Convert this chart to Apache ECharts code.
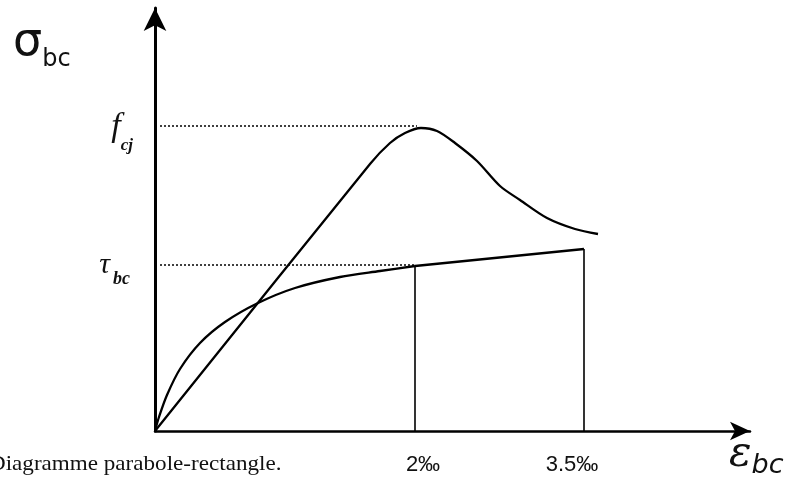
<!DOCTYPE html>
<html><head><meta charset="utf-8">
<script src="https://cdn.jsdelivr.net/npm/echarts@6/dist/echarts.min.js"></script>
<style>html,body{margin:0;padding:0;background:#fff}#c{width:799px;height:478px}</style>
</head><body><div id="c"></div>
<script>
// units: offsets (origin at the axes corner)
const xTickPos = [260, 429];
const xTickLabels = ['2‰', '3.5‰'];
const yTickPos = [166, 305];
const yTickLabels = ['{t|τ}{ts|bc}', '{f|f}{fs|cj}'];
// parabola-rectangle curve (lower)
const paraX = [0, 4, 12, 25, 45, 70, 103, 140, 185, 225, 260];
const paraY = [0, 14, 36, 62, 88, 109, 128, 143, 154, 160, 165];
const rectX = [260, 429];
const rectY = [165, 182];
// real behaviour curve (upper)
const realX = [0, 215, 235, 250, 266, 282, 300, 322, 345, 365, 392, 420, 443];
const realY = [0, 267, 288, 298, 303, 300, 288, 270, 245, 231, 213, 202, 197];

const pairs = (xs, ys) => xs.map((x, i) => [x, ys[i]]);
const chart = echarts.init(document.getElementById('c'));
const black = '#000';
const ink = '#111';
chart.setOption({
  animation: false,
  backgroundColor: '#fff',
  grid: { left: 155, right: 49, top: 8, bottom: 47 },
  xAxis: {
    type: 'value', min: 0, max: 595,
    axisLine: { show: true, lineStyle: { color: black, width: 2.5 }, symbol: ['none', 'arrow'], symbolSize: [14, 20] },
    axisTick: { show: false },
    splitLine: { show: false },
    axisLabel: {
      customValues: xTickPos, margin: 23,
      formatter: v => '{l' + xTickPos.indexOf(v) + '|' + xTickLabels[xTickPos.indexOf(v)] + '}',
      rich: {
        l0: { fontFamily: 'Liberation Sans', fontSize: 22, color: ink, padding: [0, 0, 0, 16] },
        l1: { fontFamily: 'Liberation Sans', fontSize: 22, color: ink, padding: [0, 24, 0, 0] }
      }
    }
  },
  yAxis: {
    type: 'value', min: 0, max: 423,
    axisLine: { show: true, lineStyle: { color: black, width: 3 }, symbol: ['none', 'arrow'], symbolSize: [17, 23] },
    axisTick: { show: false },
    splitLine: { show: false },
    axisLabel: {
      customValues: yTickPos, margin: 22,
      formatter: v => yTickLabels[yTickPos.indexOf(v)],
      rich: {
        f: { fontFamily: 'Liberation Serif', fontStyle: 'italic', fontSize: 34, color: ink, verticalAlign: 'bottom', lineHeight: 36 },
        fs: { fontFamily: 'Liberation Serif', fontStyle: 'italic', fontWeight: 'bold', fontSize: 17, color: ink, verticalAlign: 'bottom', lineHeight: 36, padding: [0, 0, -10, 0] },
        t: { fontFamily: 'Liberation Serif', fontStyle: 'italic', fontSize: 30, color: ink, verticalAlign: 'bottom', lineHeight: 30 },
        ts: { fontFamily: 'Liberation Serif', fontStyle: 'italic', fontWeight: 'bold', fontSize: 18, color: ink, verticalAlign: 'bottom', lineHeight: 30, padding: [0, 3, -8, 3] }
      }
    }
  },
  series: [
    { type: 'line', data: pairs(paraX, paraY), smooth: 0.3, symbol: 'none', lineStyle: { color: black, width: 2.3 } },
    { type: 'line', data: pairs(rectX, rectY), symbol: 'none', lineStyle: { color: black, width: 2.3 } },
    { type: 'line', data: pairs(realX, realY), smooth: 0.3, symbol: 'none', lineStyle: { color: black, width: 2.3 } },
    { type: 'line', data: [[5, yTickPos[1]], [262, yTickPos[1]]], symbol: 'none', lineStyle: { color: black, width: 1.5, type: [2, 2] } },
    { type: 'line', data: [[5, yTickPos[0]], [260, yTickPos[0]]], symbol: 'none', lineStyle: { color: black, width: 1.5, type: [2, 2] } },
    { type: 'line', data: [[rectX[0], 0], [rectX[0], rectY[0]]], symbol: 'none', lineStyle: { color: black, width: 1.6 } },
    { type: 'line', data: [[rectX[1], 0], [rectX[1], rectY[1]]], symbol: 'none', lineStyle: { color: black, width: 1.6 } }
  ],
  graphic: [
    { type: 'text', left: 13, top: 20, style: { text: '{s|σ}{b|bc}', rich: {
      s: { fontFamily: 'DejaVu Sans', fontSize: 46, fill: ink, verticalAlign: 'bottom', lineHeight: 46 },
      b: { fontFamily: 'DejaVu Sans', fontSize: 24, fill: ink, verticalAlign: 'bottom', lineHeight: 46, padding: [0, 0, -6, 0] } } } },
    { type: 'text', left: 729, top: 434, style: { text: '{e|ε}{b|bc}', rich: {
      e: { fontFamily: 'DejaVu Serif', fontStyle: 'italic', fontSize: 42, fill: ink, verticalAlign: 'bottom', lineHeight: 42 },
      b: { fontFamily: 'DejaVu Sans', fontStyle: 'italic', fontSize: 27, fill: ink, verticalAlign: 'bottom', lineHeight: 42, padding: [0, 0, -3, 0] } } } },
    { type: 'text', left: -11, top: 454, scaleX: 1.1, style: { text: 'Diagramme parabole-rectangle.', fontFamily: 'Liberation Serif', fontSize: 21, fill: ink } }
  ]
});
</script></body></html>
